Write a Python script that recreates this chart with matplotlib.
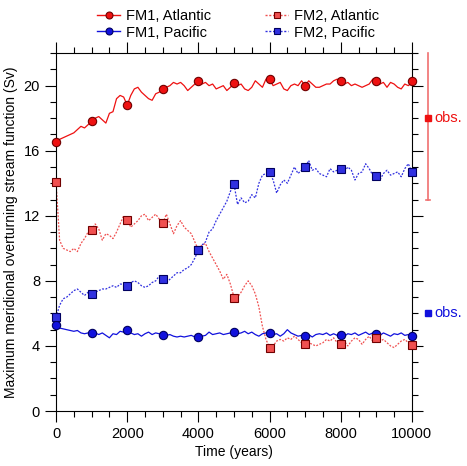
import numpy as np
import matplotlib.pyplot as plt
from matplotlib.ticker import MultipleLocator

plt.rcParams['font.family'] = ['Liberation Sans', 'DejaVu Sans']

years = np.arange(0, 10001, 100)
marker_years = np.arange(0, 10001, 1000)

fm1_atl = [16.5, 16.7, 16.8, 16.9, 17.0, 17.1, 17.3, 17.5, 17.4, 17.6,
           17.8, 18.0, 18.1, 17.9, 17.7, 18.3, 18.4, 19.2, 19.4, 19.3,
           18.8, 19.4, 19.8, 19.9, 19.6, 19.4, 19.2, 19.1, 19.5, 19.6,
           19.8, 19.9, 20.0, 20.2, 20.1, 20.2, 20.0, 19.7, 19.9, 20.1,
           20.3, 20.1, 20.2, 20.0, 20.1, 19.8, 19.9, 20.0, 19.7, 19.9,
           20.2, 20.0, 20.1, 19.8, 19.7, 19.9, 20.3, 20.1, 19.9, 20.4,
           20.4, 20.0, 20.1, 20.2, 19.8, 19.7, 20.0, 20.1, 20.0, 20.3,
           20.0, 20.3, 20.1, 19.9, 19.9, 20.0, 20.1, 20.1, 20.3, 20.4,
           20.3, 20.1, 20.2, 20.0, 20.1, 20.0, 19.9, 20.0, 20.1, 20.4,
           20.3, 20.1, 20.2, 19.9, 20.2, 20.1, 19.9, 19.8, 20.1, 20.0,
           20.2]
fm1_pac = [5.25, 5.1, 5.05, 5.0, 4.95, 4.9, 4.95, 4.8, 4.75, 4.8,
           4.75, 4.8, 4.7, 4.8, 4.65, 4.5, 4.75, 4.7, 4.9, 4.85,
           4.95, 4.8, 4.7, 4.75, 4.6, 4.75, 4.85, 4.7, 4.8, 4.75,
           4.7, 4.65, 4.7, 4.6, 4.55, 4.6, 4.55, 4.6, 4.65, 4.55,
           4.5, 4.6, 4.65, 4.85, 4.7, 4.75, 4.8, 4.7, 4.75, 4.8,
           4.85, 4.75, 4.8, 4.9, 4.75, 4.85, 4.7, 4.6, 4.75, 4.8,
           4.8, 4.7, 4.75, 4.6, 4.75, 5.0, 4.8, 4.7, 4.6, 4.65,
           4.6, 4.7, 4.55, 4.7, 4.75, 4.7, 4.8, 4.65, 4.75, 4.65,
           4.7, 4.6, 4.75, 4.7, 4.8, 4.65, 4.75, 4.85, 4.7, 4.8,
           4.75, 4.65, 4.8, 4.7, 4.6, 4.75, 4.7, 4.8, 4.65, 4.7,
           4.6]
fm2_atl = [14.1, 10.5, 10.0, 9.9, 9.8, 10.0, 9.8, 10.3, 10.6, 11.0,
           11.1, 11.5, 11.2, 10.5, 10.9, 10.8, 10.6, 11.0, 11.5, 12.0,
           11.8, 11.3, 11.5, 11.7, 12.0, 12.1, 11.7, 11.9, 12.1, 11.8,
           11.55, 12.1, 11.5, 10.9, 11.4, 11.7, 11.3, 11.1, 10.9, 10.4,
           9.9, 10.2, 10.3, 9.8, 9.4, 9.0, 8.6, 8.1, 8.4, 7.8,
           7.0, 7.0, 7.3, 7.7, 8.0, 7.7, 7.2, 6.4, 5.2, 4.4,
           3.9, 4.0, 4.3, 4.4, 4.3, 4.5, 4.4, 4.6, 4.4, 4.2,
           4.15, 4.2, 4.1, 4.0, 4.1, 4.2, 4.4, 4.3, 4.5, 4.2,
           4.1, 4.3, 4.0, 4.3, 4.5, 4.4, 4.1, 4.4, 4.6, 4.3,
           4.5, 4.3, 4.4, 4.2, 4.0, 3.9, 4.1, 4.3, 4.4, 4.2,
           4.1]
fm2_pac = [5.75, 6.5, 6.9, 7.0, 7.2, 7.4, 7.5, 7.3, 7.1, 7.3,
           7.2, 7.3, 7.4, 7.5, 7.5, 7.6, 7.7, 7.6, 7.8, 7.8,
           7.7, 7.9, 8.0, 7.9, 7.7, 7.6, 7.7, 7.9, 8.0, 8.3,
           8.1, 7.9, 8.1, 8.3, 8.5, 8.5, 8.7, 8.8, 9.0, 9.4,
           9.9, 10.2, 10.4, 11.0, 11.2, 11.7, 12.1, 12.5, 12.9, 13.5,
           13.97, 12.7, 13.1, 12.8, 12.9, 13.3, 13.1, 14.0, 14.5, 14.6,
           14.68, 14.2, 13.4, 13.9, 14.2, 14.0, 14.5, 15.0, 14.6, 14.8,
           14.97, 15.4, 14.8, 14.9, 14.6, 14.5, 14.4, 14.9, 14.7, 14.8,
           14.85, 14.7, 15.0, 14.8, 14.2, 14.6, 14.7, 15.2, 14.9, 14.5,
           14.46, 14.2, 14.6, 14.8, 14.5, 14.6, 14.7, 14.4, 14.9, 15.2,
           14.68]

fm1_atl_mk = [16.56, 17.8, 18.8, 19.8, 20.26, 20.18, 20.4, 20.0, 20.26, 20.26, 20.26]
fm1_pac_mk = [5.26, 4.77, 4.97, 4.68, 4.52, 4.85, 4.8, 4.62, 4.68, 4.72, 4.6]
fm2_atl_mk = [14.07, 11.12, 11.76, 11.55, 9.92, 6.97, 3.87, 4.15, 4.11, 4.48, 4.07]
fm2_pac_mk = [5.75, 7.18, 7.71, 8.12, 9.92, 13.97, 14.68, 14.97, 14.85, 14.46, 14.68]

obs_atl = 18.0
obs_atl_lo, obs_atl_hi = 13.0, 22.0
obs_pac = 6.0

red = '#ee1111'
blue = '#1111dd'

fig = plt.figure(figsize=(4.67, 4.66), dpi=100)
ax = fig.add_axes([0.12, 0.118, 0.762, 0.768])

# order: column 1 = FM1, column 2 = FM2
series = [
    (fm1_atl, fm1_atl_mk, red, '-', 'o', '#700000', 'FM1, Atlantic'),
    (fm1_pac, fm1_pac_mk, blue, '-', 'o', '#000060', 'FM1, Pacific'),
    (fm2_atl, fm2_atl_mk, '#f05050', (0, (1.5, 1.2)), 's', '#700000', 'FM2, Atlantic'),
    (fm2_pac, fm2_pac_mk, '#3030e0', (0, (1.5, 1.2)), 's', '#000060', 'FM2, Pacific'),
]
handles = []
for vals, mk, col, ls, m, ec, lab in series:
    ax.plot(years, vals, color=col, ls=ls, lw=0.9)
    ax.plot(marker_years, mk, ls='none', marker=m, ms=6, mfc=col, mec=ec, mew=0.8,
            clip_on=False, zorder=5)
    h, = ax.plot([], [], color=col, ls=ls, lw=1.0, marker=m, ms=5, mfc=col, mec=ec, mew=0.8)
    handles.append((h, lab))

# observations drawn beyond the right axis
x_obs = 10450
ax.plot([x_obs, x_obs], [obs_atl_lo, obs_atl_hi], color='#f07070', lw=1.2, clip_on=False)
ax.plot([x_obs - 60, x_obs + 60], [obs_atl_lo, obs_atl_lo], color='#f07070', lw=1.2, clip_on=False)
ax.plot([x_obs], [obs_atl], 's', color=red, ms=4, clip_on=False)
ax.text(x_obs + 180, obs_atl, 'obs.', color=red, fontsize=10.5, va='center', clip_on=False)
ax.plot([x_obs], [obs_pac], 's', color=blue, ms=4, clip_on=False)
ax.text(x_obs + 180, obs_pac, 'obs.', color=blue, fontsize=10.5, va='center', clip_on=False)

ax.set_xlim(0, 10000)
ax.set_ylim(0, 22)
ax.xaxis.set_major_locator(MultipleLocator(2000))
ax.xaxis.set_minor_locator(MultipleLocator(500))
ax.yaxis.set_major_locator(MultipleLocator(4))
ax.yaxis.set_minor_locator(MultipleLocator(1))
ax.tick_params(which='both', direction='out', top=True, right=True, labelsize=10.5, width=0.8)
ax.tick_params(which='major', length=8)
ax.tick_params(which='minor', length=4)
for s in ax.spines.values():
    s.set_linewidth(0.8)

ax.set_xlabel('Time (years)', fontsize=10, labelpad=3)
ax.set_ylabel('Maximum meridional overturning stream function (Sv)', fontsize=10, labelpad=4)

fig.legend([h for h, _ in handles], [l for _, l in handles], ncol=2, loc='upper center',
           bbox_to_anchor=(0.51, 1.005), frameon=False, fontsize=10.5, handlelength=1.6,
           columnspacing=3.7, labelspacing=0.15, handletextpad=0.4, borderpad=0.3)

fig.savefig('out.png', dpi=100)
